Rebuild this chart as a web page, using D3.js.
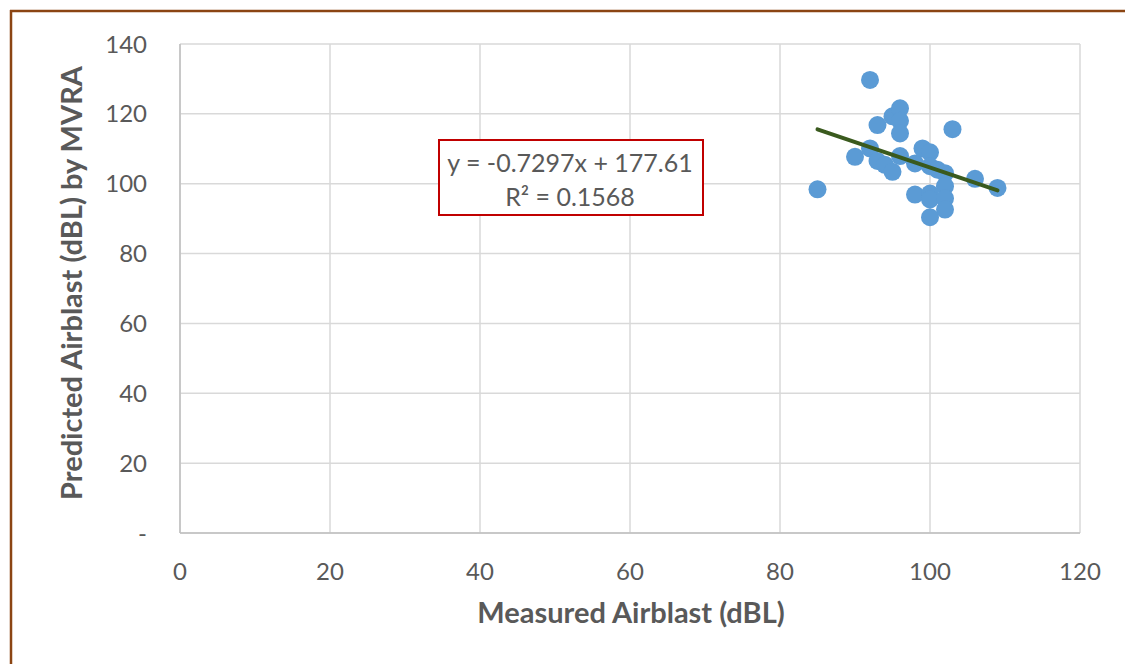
<!DOCTYPE html>
<html><head><meta charset="utf-8">
<script src="https://cdn.jsdelivr.net/npm/d3@7"></script>
<style>
html,body{margin:0;padding:0;background:#fff;}
svg{display:block;}
</style></head>
<body><svg id="c" width="1125" height="664"></svg>
<script>
const measured = [85,90,92,92,93,93,94,95,95,96,96,96,96,98,98,99,100,100,100,100,100,101,102,102,102,102,103,106,109];
const predicted = [98.4,107.7,129.7,110.1,116.8,106.5,105.4,119.3,103.4,121.6,118.0,114.4,107.9,105.8,96.9,110.1,109.0,105.0,97.2,95.5,90.4,104.0,103.0,99.3,95.8,92.6,115.6,101.4,98.8];
const xTicks = [0,20,40,60,80,100,120];
const yTicks = [0,20,40,60,80,100,120,140];
const yTickLabels = ["-","20","40","60","80","100","120","140"];
const trendSlope = -0.7297, trendIntercept = 177.61;
const eqLines = ["y = -0.7297x + 177.61", "R² = 0.1568"];
const xTitle = "Measured Airblast (dBL)";
const yTitle = "Predicted Airblast (dBL) by MVRA";

const svg = d3.select("#c");
const font = "Lato, 'Open Sans', sans-serif";
const L=180, R=1080, T=44, B=533;
const x = d3.scaleLinear().domain([0,120]).range([L,R]);
const y = d3.scaleLinear().domain([0,140]).range([B,T]);

// outer border (brown)
svg.append("line").attr("x1",10).attr("x2",1125).attr("y1",11).attr("y2",11).attr("stroke","#8B4513").attr("stroke-width",2.5);
svg.append("line").attr("x1",11).attr("x2",11).attr("y1",10).attr("y2",664).attr("stroke","#8B4513").attr("stroke-width",2.5);

// gridlines
const g = svg.append("g");
g.selectAll(".hg").data(yTicks).enter().append("line")
  .attr("x1",L).attr("x2",R).attr("y1",d=>y(d)).attr("y2",d=>y(d))
  .attr("stroke","#D9D9D9").attr("stroke-width",1.5);
g.selectAll(".vg").data(xTicks).enter().append("line")
  .attr("y1",T).attr("y2",B).attr("x1",d=>x(d)).attr("x2",d=>x(d))
  .attr("stroke","#D9D9D9").attr("stroke-width",1.5);
g.append("line").attr("x1",L).attr("x2",R).attr("y1",B).attr("y2",B).attr("stroke","#BFBFBF").attr("stroke-width",1.5);
g.append("line").attr("x1",L).attr("x2",L).attr("y1",T).attr("y2",B).attr("stroke","#BFBFBF").attr("stroke-width",1.5);

// tick labels
svg.selectAll(".xt").data(xTicks).enter().append("text")
  .attr("x",d=>x(d)).attr("y",580).attr("text-anchor","middle")
  .attr("font-family",font).attr("font-size",24).attr("fill","#595959").text(d=>d);
svg.selectAll(".yt").data(yTicks).enter().append("text")
  .attr("x",147).attr("y",d=>y(d)+8.5).attr("text-anchor","end")
  .attr("font-family",font).attr("font-size",24).attr("fill","#595959").text((d,i)=>yTickLabels[i]);

// axis titles
svg.append("text").attr("x",631).attr("y",623).attr("text-anchor","middle")
  .attr("font-family",font).attr("font-weight","bold").attr("font-size",29).attr("fill","#595959").text(xTitle);
svg.append("text").attr("transform","translate(82,283) rotate(-90)").attr("text-anchor","middle")
  .attr("font-family",font).attr("font-weight","bold").attr("font-size",29).attr("fill","#595959").text(yTitle);

// points
const pts = measured.map((m,i)=>({m, p:predicted[i]}));
svg.selectAll(".pt").data(pts).enter().append("circle")
  .attr("cx",d=>x(d.m)).attr("cy",d=>y(d.p)).attr("r",9).attr("fill","#5B9BD5");

// trendline
const xmin = d3.min(measured), xmax = d3.max(measured);
svg.append("line")
  .attr("x1",x(xmin)).attr("y1",y(trendSlope*xmin+trendIntercept))
  .attr("x2",x(xmax)).attr("y2",y(trendSlope*xmax+trendIntercept))
  .attr("stroke","#3A5A1E").attr("stroke-width",4).attr("stroke-linecap","round");

// equation box
svg.append("rect").attr("x",439).attr("y",140).attr("width",264).attr("height",75)
  .attr("fill","white").attr("stroke","#C00000").attr("stroke-width",2);
svg.append("text").attr("x",570).attr("y",172).attr("text-anchor","middle")
  .attr("font-family",font).attr("font-size",25).attr("fill","#595959").text(eqLines[0]);
svg.append("text").attr("x",570).attr("y",206).attr("text-anchor","middle")
  .attr("font-family",font).attr("font-size",25).attr("fill","#595959").text(eqLines[1]);
</script></body></html>
